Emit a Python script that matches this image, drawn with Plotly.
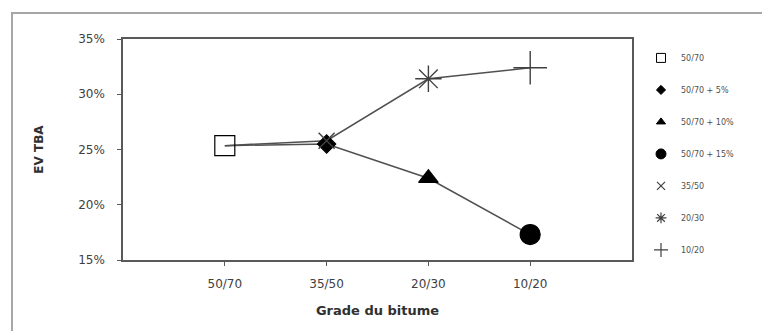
import plotly.graph_objects as go

# Bitumen grades on the x axis
grades = ["50/70", "35/50", "20/30", "10/20"]

# 50/70 base bitumen with increasing additive content
modified_names = ["50/70", "50/70 + 5%", "50/70 + 10%", "50/70 + 15%"]
ev_modified = [0.2535, 0.255, 0.224, 0.173]

# harder pure grades
hard_names = ["35/50", "20/30", "10/20"]
ev_hard = [0.258, 0.314, 0.324]

modified_symbols = ["square-open", "diamond", "triangle-up", "circle"]
modified_sizes = [20, 14, 17, 20]
modified_legend_sizes = [9, 7, 8, 10]
hard_symbols = ["x-thin-open", "asterisk-open", "cross-thin-open"]
hard_sizes = [16, 22, 24]
hard_legend_sizes = [8, 9, 10]

line_color = "#505050"
frame_color = "#595959"
font_family = "DejaVu Sans, Verdana, sans-serif"

fig = go.Figure()

# connecting lines (no legend entries)
fig.add_trace(go.Scatter(x=grades, y=ev_modified, mode="lines",
                         line=dict(color=line_color, width=1.5),
                         showlegend=False, hoverinfo="skip"))
fig.add_trace(go.Scatter(x=grades, y=[ev_modified[0]] + ev_hard,
                         mode="lines", line=dict(color=line_color, width=1.5),
                         showlegend=False, hoverinfo="skip"))

# markers on the chart
for i, name in enumerate(modified_names):
    fig.add_trace(go.Scatter(
        x=[grades[i]], y=[ev_modified[i]], mode="markers", name=name,
        showlegend=False,
        marker=dict(symbol=modified_symbols[i], size=modified_sizes[i],
                    color="black", line=dict(color="black", width=1.2)),
    ))
for j, name in enumerate(hard_names):
    fig.add_trace(go.Scatter(
        x=[grades[j + 1]], y=[ev_hard[j]], mode="markers", name=name,
        showlegend=False,
        marker=dict(symbol=hard_symbols[j], size=hard_sizes[j],
                    color="#404040", line=dict(color="#404040", width=1.4)),
    ))

# smaller symbols for the legend
for i, name in enumerate(modified_names):
    fig.add_trace(go.Scatter(
        x=[None], y=[None], mode="markers", name=name, legendgroup=name,
        marker=dict(symbol=modified_symbols[i], size=modified_legend_sizes[i],
                    color="black", line=dict(color="black", width=1)),
    ))
for j, name in enumerate(hard_names):
    fig.add_trace(go.Scatter(
        x=[None], y=[None], mode="markers", name=name, legendgroup=name,
        marker=dict(symbol=hard_symbols[j], size=hard_legend_sizes[j],
                    color="#404040", line=dict(color="#404040", width=1.2)),
    ))

fig.update_layout(
    width=762, height=331,
    margin=dict(l=123, r=130, t=39, b=71),
    paper_bgcolor="white", plot_bgcolor="white",
    font=dict(family=font_family, color="#404040"),
    legend=dict(x=(641 - 123) / 509, y=0.98, xanchor="left", yanchor="top",
                font=dict(size=8, color="#505050"), itemwidth=30,
                tracegroupgap=13, bgcolor="rgba(0,0,0,0)"),
    xaxis=dict(
        type="category", categoryorder="array", categoryarray=grades,
        range=[-1, 4],
        showline=True, linecolor=frame_color, linewidth=1.5, mirror=True,
        ticks="outside", ticklen=4, tickcolor=frame_color,
        ticklabelstandoff=8,
        showgrid=False, zeroline=False,
        tickfont=dict(size=12, color="#404040"),
        title=dict(text="<b>Grade du bitume</b>", font=dict(size=13, color="#303030"),
                   standoff=16),
    ),
    yaxis=dict(
        range=[0.15, 0.35], tickvals=[0.15, 0.20, 0.25, 0.30, 0.35],
        tickformat=".0%",
        showline=True, linecolor=frame_color, linewidth=1.5, mirror=True,
        ticks="outside", ticklen=4, tickcolor=frame_color,
        ticklabelstandoff=10,
        showgrid=False, zeroline=False,
        tickfont=dict(size=12, color="#404040"),
        title=dict(text="<b>EV TBA</b>", font=dict(size=12, color="#303030"),
                   standoff=32),
    ),
    shapes=[dict(type="rect", xref="paper", yref="paper",
                 x0=(12 - 123) / 509, x1=(770 - 123) / 509,
                 y0=(260 - 340) / 221, y1=(260 - 13) / 221,
                 line=dict(color="#a6a6a6", width=2), fillcolor="rgba(0,0,0,0)",
                 layer="below")],
)

fig.write_html("out.html")
